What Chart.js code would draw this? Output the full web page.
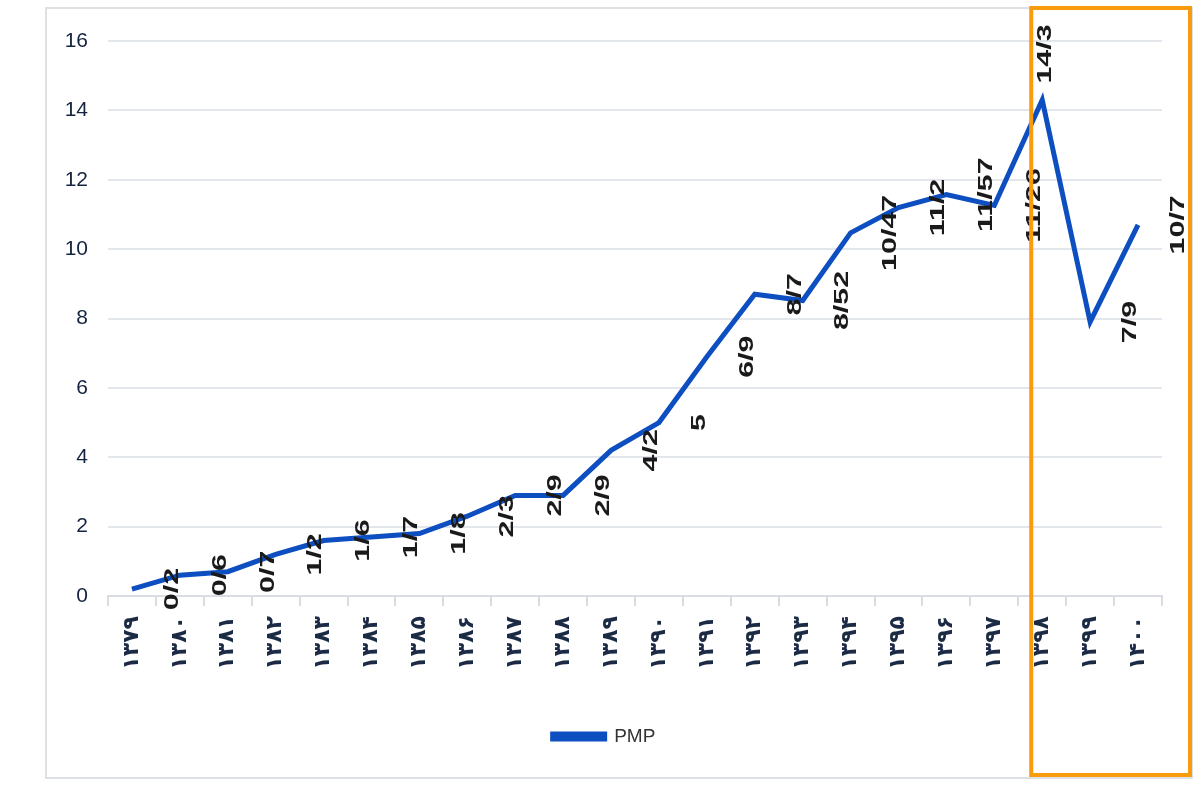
<!DOCTYPE html>
<html>
<head>
<meta charset="utf-8">
<script src="https://cdn.jsdelivr.net/npm/chart.js@4.4.1/dist/chart.umd.min.js"></script>
<style>
  html, body { margin: 0; padding: 0; background: #fff; }
  #wrap { width: 1200px; height: 800px; position: relative; }
</style>
</head>
<body>
<div id="wrap"><canvas id="pmp-chart"></canvas></div>
<script>
const years = ['۱۳۷۹', '۱۳۸۰', '۱۳۸۱', '۱۳۸۲', '۱۳۸۳', '۱۳۸۴', '۱۳۸۵', '۱۳۸۶', '۱۳۸۷', '۱۳۸۸', '۱۳۸۹',
  '۱۳۹۰', '۱۳۹۱', '۱۳۹۲', '۱۳۹۳', '۱۳۹۴', '۱۳۹۵', '۱۳۹۶', '۱۳۹۷', '۱۳۹۸', '۱۳۹۹', '۱۴۰۰'];
const pmp = [0.2, 0.6, 0.7, 1.2, 1.6, 1.7, 1.8, 2.3, 2.9, 2.9, 4.2, 5, 6.9, 8.7, 8.52, 10.47, 11.2, 11.57, 11.26, 14.3, 7.9, 10.7];
const yTicks = [0, 2, 4, 6, 8, 10, 12, 14, 16];
const highlightFrom = '۱۳۹۸';

const blue = '#0d4fc0';

// frame around the chart + orange box over the last years
const framePlugin = {
  id: 'frame',
  beforeDraw(chart) {
    const c = chart.ctx;
    c.save();
    c.strokeStyle = '#dde1e6';
    c.lineWidth = 2;
    c.strokeRect(46, 8, chart.width - 54, chart.height - 30);
    c.restore();
  },
  afterDraw(chart) {
    const c = chart.ctx;
    const x = chart.scales.x.getPixelForValue(years.indexOf(highlightFrom)) - 11;
    c.save();
    c.strokeStyle = '#f89c0e';
    c.lineWidth = 4;
    c.strokeRect(x, 8, chart.width - 10 - x, chart.height - 33);
    c.restore();
  }
};

// rotated value labels, "/" used as decimal mark
const valueLabels = {
  id: 'valueLabels',
  afterDatasetsDraw(chart) {
    const c = chart.ctx;
    const pts = chart.getDatasetMeta(0).data;
    const top = Math.max(...pmp);
    c.save();
    c.fillStyle = '#1a1a1a';
    c.font = 'bold 21px "Liberation Sans", Arial, sans-serif';
    c.textAlign = 'center';
    c.textBaseline = 'middle';
    pts.forEach((p, i) => {
      const txt = String(pmp[i]).replace('.', '/');
      let lx = p.x + 40, ly = p.y;
      if (pmp[i] === top) { lx = p.x + 3; ly = p.y - 46; }
      c.save();
      c.translate(lx, ly);
      c.rotate(-Math.PI / 2);
      c.scale(1.45, 1);
      c.fillText(txt, 0, 0);
      c.restore();
    });
    c.restore();
  }
};

new Chart(document.getElementById('pmp-chart'), {
  type: 'line',
  data: {
    labels: years,
    datasets: [{
      label: 'PMP',
      data: pmp,
      borderColor: blue,
      backgroundColor: blue,
      borderWidth: 5,
      tension: 0,
      pointRadius: 0,
      borderJoinStyle: 'miter'
    }]
  },
  options: {
    responsive: true,
    maintainAspectRatio: false,
    animation: false,
    layout: { padding: { left: 46, right: 38, top: 41, bottom: 44 } },
    plugins: {
      tooltip: { enabled: false },
      legend: {
        position: 'bottom',
        labels: {
          boxWidth: 52,
          boxHeight: 5,
          color: '#333',
          font: { size: 19, family: '"Liberation Sans Narrow", "Liberation Sans", Arial, sans-serif' }
        }
      }
    },
    scales: {
      x: {
        offset: true,
        afterFit: s => { s.height = 121; },
        grid: { drawOnChartArea: false, drawTicks: true, tickLength: 10, color: '#d9dde3', lineWidth: 2, offset: true },
        border: { color: '#d9dde3', width: 2 },
        ticks: {
          autoSkip: false,
          maxRotation: 90,
          minRotation: 90,
          padding: 10,
          color: '#1b2b45',
          font: { size: 22, weight: 'bold', family: '"DejaVu Sans", sans-serif' }
        }
      },
      y: {
        min: 0,
        max: 16,
        afterFit: s => { s.width = 62; },
        afterBuildTicks: s => { s.ticks = yTicks.map(v => ({ value: v })); },
        grid: { color: '#e3e6ea', lineWidth: 2, drawTicks: false },
        border: { display: false },
        ticks: {
          padding: 20,
          color: '#142340',
          font: { size: 21, family: '"Liberation Sans Narrow", "Liberation Sans", Arial, sans-serif' }
        }
      }
    }
  },
  plugins: [framePlugin, valueLabels]
});
</script>
</body>
</html>
